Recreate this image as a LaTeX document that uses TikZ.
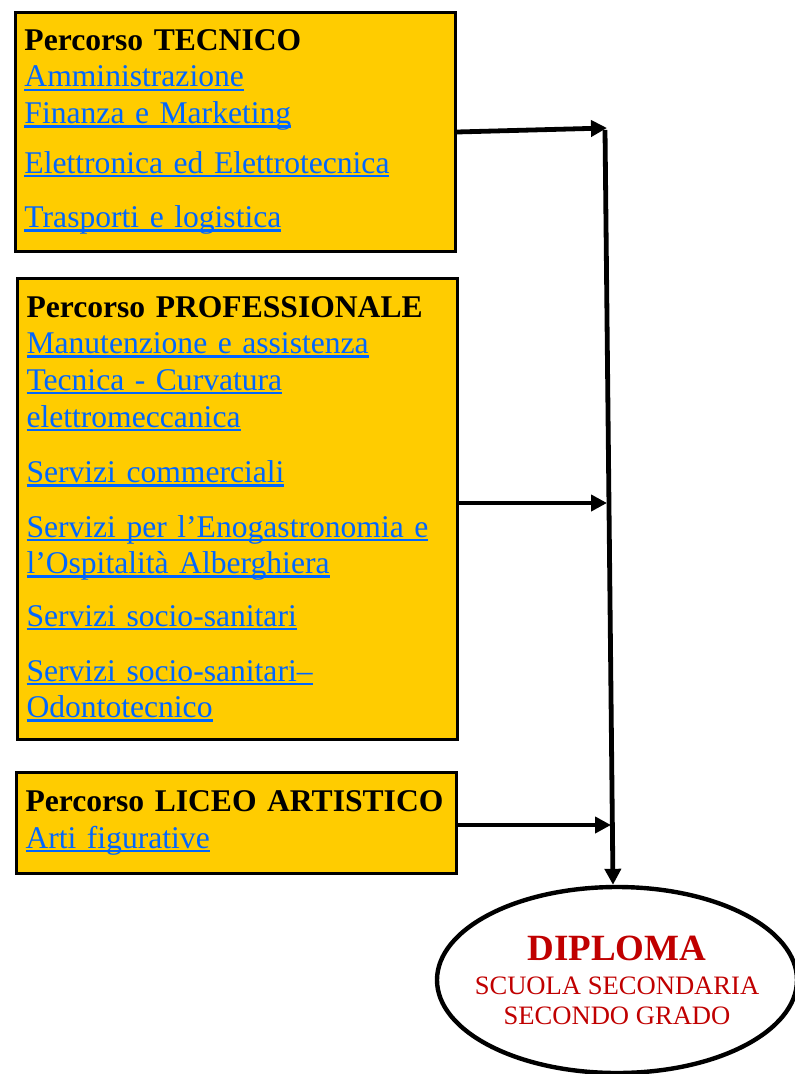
\documentclass[tikz,border=0pt]{standalone}
\usepackage{fontspec}
\setmainfont{Liberation Serif}
\usepackage{xcolor}
\usepackage{tikz}
\usetikzlibrary{positioning,calc,shapes.geometric,arrows.meta}

\definecolor{giallo}{HTML}{FFCC00}
\definecolor{blulink}{HTML}{0066FF}
\definecolor{rosso}{HTML}{C00000}

% testo sottolineato come un link
\newcommand{\lnk}[1]{\textcolor{blulink}{\setbox0\hbox{#1}\rlap{\rule[-2pt]{\wd0}{1.2pt}}\box0}}
\newcommand{\titolo}[1]{\mbox{\fontsize{15.8}{18.3}\selectfont\bfseries #1}}

\begin{document}
\begin{tikzpicture}[
						x=0.5pt, y=-0.5pt, % un px = mezzo punto
						box/.style={
							draw=black, line width=1.5pt, fill=giallo,
							anchor=north west, align=left,
							text width=211pt, inner xsep=4.5pt, inner ysep=0pt,
							font=\fontsize{15.8}{18.3}\selectfont
						},
						freccia/.style={
							-{Triangle[length=8pt,width=8pt]}, line width=2.4pt
						},
						diploma/.style={
							ellipse, draw=black, line width=2.2pt,
							minimum width=180pt, minimum height=93pt, inner sep=0pt
						},
						diptesto/.style={
							align=center, text=rosso,
							font=\fontsize{13.3}{15}\selectfont
						}
						]
						\useasboundingbox (0,0) rectangle (794,1074);
						
						% Percorsi
						\node[box, minimum height=119.5pt] (tec) at (14,11) {\titolo{Percorso TECNICO}\\
							\lnk{Amministrazione}\\
							\lnk{Finanza e Marketing}\\[6.5pt]
							\lnk{Elettronica ed Elettrotecnica}\\[9pt]
							\lnk{Trasporti e logistica}};
						
						\node[box, minimum height=230.5pt] (pro) at (16,277) {\titolo{Percorso PROFESSIONALE}\\
							\lnk{Manutenzione e assistenza}\\
							\lnk{Tecnica - Curvatura}\\
							\lnk{elettromeccanica}\\[9.5pt]
							\lnk{Servizi commerciali}\\[9pt]
							\lnk{Servizi per l’Enogastronomia e}\\
							\lnk{l’Ospitalità Alberghiera}\\[8pt]
							\lnk{Servizi socio-sanitari}\\[9pt]
							\lnk{Servizi socio-sanitari–}\\
							\lnk{Odontotecnico}};
						
						\node[box, minimum height=50.5pt] (art) at (15,771) {\titolo{Percorso LICEO ARTISTICO}\\
							\lnk{Arti figurative}};
						
						% Diploma
						\node[diploma] (dip) at (617,980) {};
						\node[diptesto] (diptxt) at (dip.center) {{\fontsize{18.5}{15}\selectfont\bfseries DIPLOMA}\\[2pt]
							SCUOLA SECONDARIA\\
							SECONDO GRADO};
						
						% Frecce
						\coordinate (vtop) at (605,130);
						\coordinate (t1) at (607,128);
						\coordinate (t2) at (607,503);
						\coordinate (t3) at (611,825);
						
						\draw[freccia] (tec.east) -- (t1);
						\draw[freccia] (pro.east |- t2) -- (t2);
						\draw[freccia] (art.east |- t3) -- (t3);
						\draw[freccia] (vtop) -- ($(dip.north)+(-4,0)$);
						
					\end{tikzpicture}
\end{document}
